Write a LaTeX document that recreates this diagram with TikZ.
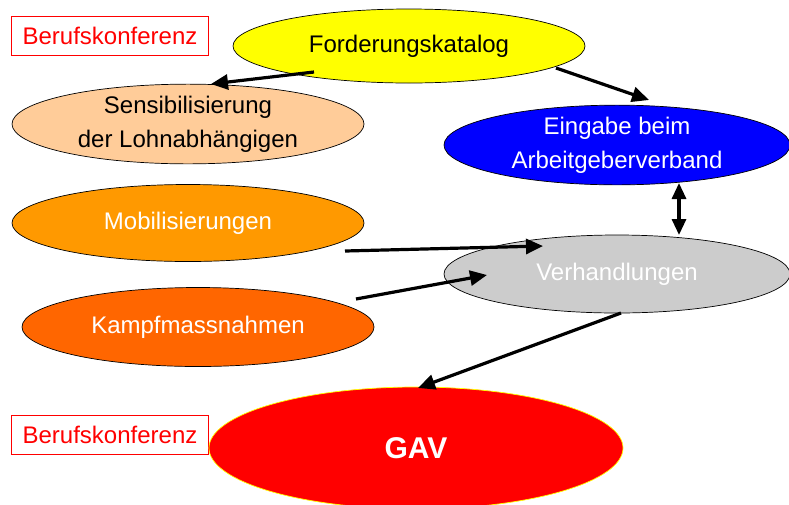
\documentclass[tikz,border=0pt]{standalone}
\usepackage{fontspec}
\setmainfont{Liberation Sans}
\usetikzlibrary{shapes.geometric,arrows.meta,calc}
\definecolor{cforder}{HTML}{FFFF00}
\definecolor{csens}{HTML}{FFCC99}
\definecolor{ceingabe}{HTML}{0000FF}
\definecolor{cverh}{HTML}{CCCCCC}
\definecolor{cmobil}{HTML}{FF9900}
\definecolor{ckampf}{HTML}{FF6600}
\definecolor{cgav}{HTML}{FF0000}
\definecolor{cgavborder}{HTML}{FFFF00}
\begin{document}
\begin{tikzpicture}[x=1pt,y=-1pt,
  oval/.style={ellipse, draw=black, line width=0.7pt, inner sep=0pt, align=center,
    font=\fontsize{24}{34}\selectfont},
  berufbox/.style={draw=red, line width=0.7pt, fill=white, text=red, inner sep=0pt,
    minimum width=197pt, minimum height=39pt, font=\fontsize{24}{28}\selectfont},
  conn/.style={line width=3.2pt, draw=black, -{Triangle[length=17pt,width=15pt]}},
  conn2/.style={line width=3.2pt, draw=black, {Triangle[length=16pt,width=14pt]}-{Triangle[length=16pt,width=14pt]}}
]
\useasboundingbox (0,0) rectangle (789,504);

\node[berufbox] (bk1) at (110,35.5) {Berufskonferenz};
\node[berufbox] (bk2) at (110,435) {Berufskonferenz};

\node[oval, fill=cforder, text=black, minimum width=352pt, minimum height=74pt] (forder) at (409,46) {Forderungskatalog};
\node[oval, fill=csens, text=black, minimum width=352pt, minimum height=79pt] (sens) at (188,124) {Sensibilisierung\\der Lohnabhängigen};
\node[oval, fill=ceingabe, text=white, minimum width=346pt, minimum height=78pt] (eingabe) at (617,145) {Eingabe beim\\Arbeitgeberverband};
\node[oval, fill=cmobil, text=white, minimum width=352pt, minimum height=77pt] (mobil) at (188,223) {Mobilisierungen};
\node[oval, fill=cverh, text=white, minimum width=346pt, minimum height=78pt] (verh) at (617,274) {Verhandlungen};
\node[oval, fill=ckampf, text=white, minimum width=352pt, minimum height=79pt] (kampf) at (198,327) {Kampfmassnahmen};
\node[oval, draw=cgavborder, fill=cgav, text=white, minimum width=414pt, minimum height=122pt,
  font=\fontsize{30}{34}\selectfont\bfseries] (gav) at (416,448) {GAV};

\draw[conn] ($(forder.center)+(-95,26)$) -- ($(sens.center)+(23,-40)$);
\draw[conn] ($(forder.center)+(147,22)$) -- ($(eingabe.center)+(32,-45)$);
\draw[conn2] ($(eingabe.center)+(62,38)$) -- ($(verh.center)+(62,-39)$);
\draw[conn] ($(mobil.center)+(157,28)$) -- ($(verh.center)+(-74,-28)$);
\draw[conn] ($(kampf.center)+(158,-28)$) -- ($(verh.center)+(-130,1)$);
\draw[conn] ($(verh.center)+(4,39)$) -- ($(gav.center)+(2,-60)$);
\end{tikzpicture}
\end{document}
